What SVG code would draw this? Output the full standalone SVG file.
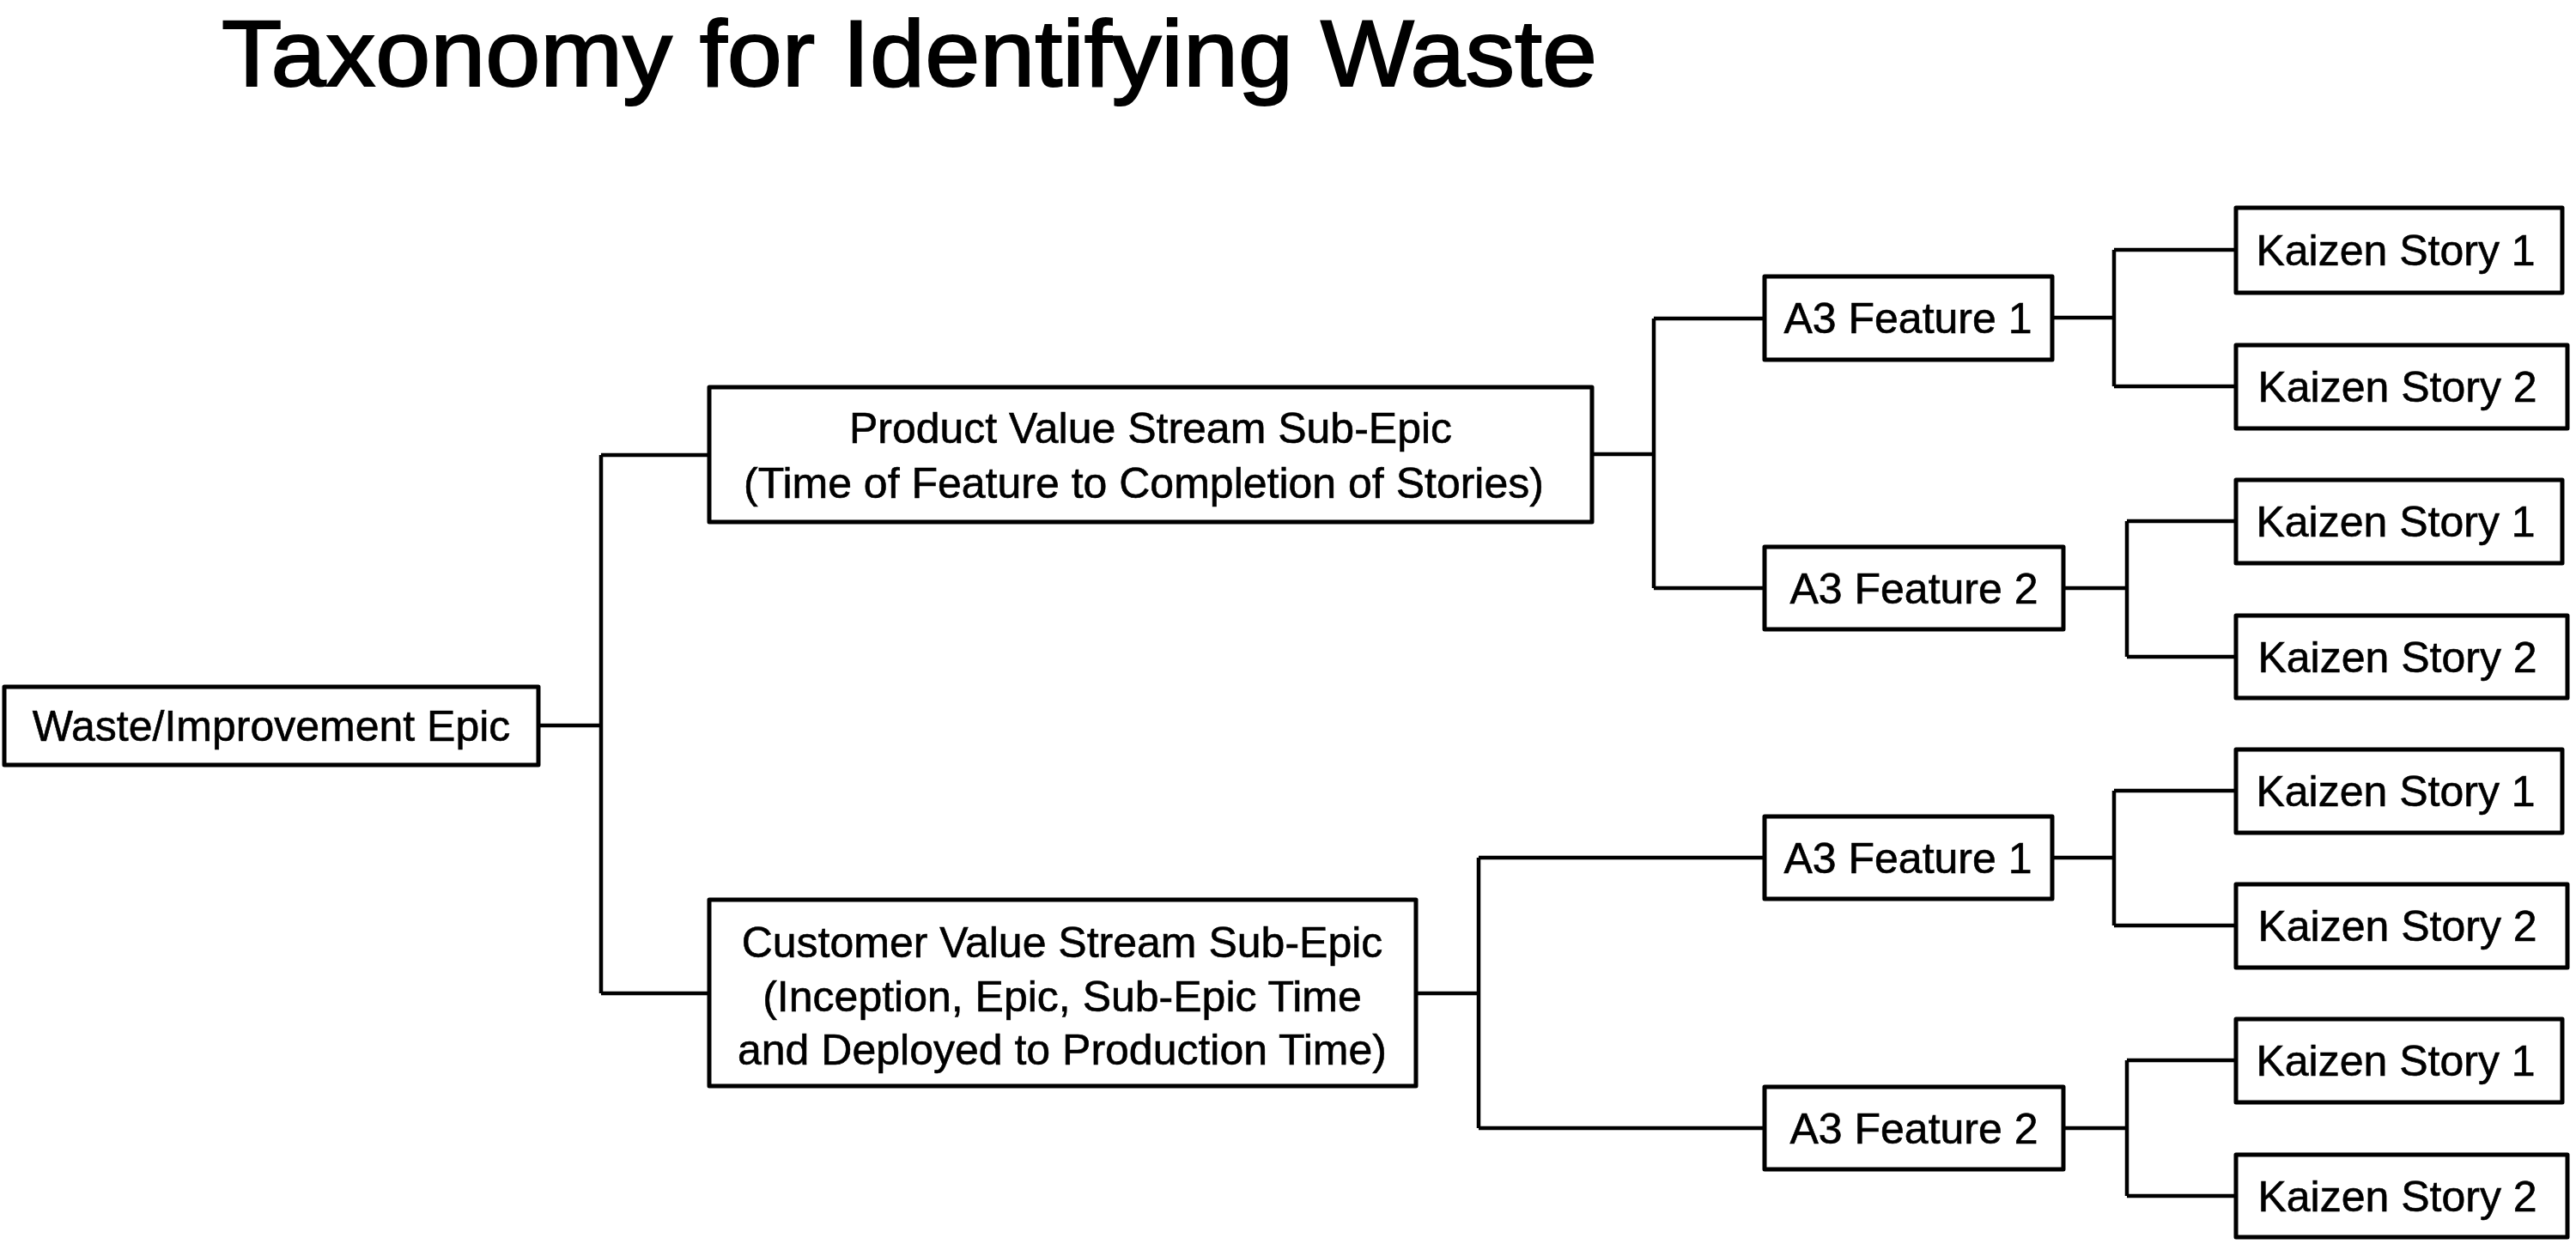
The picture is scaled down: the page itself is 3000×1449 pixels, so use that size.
<svg xmlns="http://www.w3.org/2000/svg" width="3000" height="1449" viewBox="0 0 3000 1449">
<style>
.box{fill:#fff;stroke:#000;stroke-width:5;stroke-linejoin:round}
.t{font-family:"Liberation Sans",Arial,sans-serif;font-size:50px;fill:#000;text-anchor:middle;stroke:#000;stroke-width:0.6}
.title{font-family:"Liberation Sans",Arial,sans-serif;font-size:110px;fill:#000;stroke:#000;stroke-width:2}
.c{fill:none;stroke:#000;stroke-width:4.5;stroke-linejoin:miter}
</style>
<rect width="3000" height="1449" fill="#fff"/>
<text class="title" x="258" y="100" textLength="1602" lengthAdjust="spacingAndGlyphs">Taxonomy for Identifying Waste</text>
<g id="connectors">
<path class="c" d="M627 845 H700 M700 530 V1157 M700 530 H826 M700 1157 H826"/>
<path class="c" d="M1854 529 H1926 M1926 371 V685 M1926 371 H2055 M1926 685 H2055"/>
<path class="c" d="M1649 1157 H1722 M1722 999 V1314 M1722 999 H2055 M1722 1314 H2055"/>
<path class="c" d="M2390 370 H2462 M2462 291 V450 M2462 291 H2604 M2462 450 H2604"/>
<path class="c" d="M2403 685 H2477 M2477 607 V765 M2477 607 H2604 M2477 765 H2604"/>
<path class="c" d="M2390 999 H2462 M2462 921 V1078 M2462 921 H2604 M2462 1078 H2604"/>
<path class="c" d="M2403 1314 H2477 M2477 1235 V1393 M2477 1235 H2604 M2477 1393 H2604"/>
</g>
<g id="n-root"><rect class="box" x="5" y="800" width="622" height="91"/><text class="t" x="316" y="863">Waste/Improvement Epic</text></g>
<g id="n-product"><rect class="box" x="826" y="451" width="1028" height="157"/><text class="t" x="1340" y="516">Product Value Stream Sub-Epic</text><text class="t" x="1332" y="580">(Time of Feature to Completion of Stories)</text></g>
<g id="n-customer"><rect class="box" x="826" y="1048" width="823" height="217"/><text class="t" x="1237" y="1115">Customer Value Stream Sub-Epic</text><text class="t" x="1237" y="1178">(Inception, Epic, Sub-Epic Time</text><text class="t" x="1237" y="1240">and Deployed to Production Time)</text></g>
<g id="n-pf1"><rect class="box" x="2055" y="322" width="335" height="97"/><text class="t" x="2222" y="388">A3 Feature 1</text></g>
<g id="n-pf2"><rect class="box" x="2055" y="637" width="348" height="96"/><text class="t" x="2229" y="703">A3 Feature 2</text></g>
<g id="n-cf1"><rect class="box" x="2055" y="951" width="335" height="96"/><text class="t" x="2222" y="1017">A3 Feature 1</text></g>
<g id="n-cf2"><rect class="box" x="2055" y="1266" width="348" height="96"/><text class="t" x="2229" y="1332">A3 Feature 2</text></g>
<g id="n-k1"><rect class="box" x="2604" y="242" width="380" height="99"/><text class="t" x="2790" y="309">Kaizen Story 1</text></g>
<g id="n-k2"><rect class="box" x="2604" y="402" width="386" height="97"/><text class="t" x="2792" y="468">Kaizen Story 2</text></g>
<g id="n-k3"><rect class="box" x="2604" y="559" width="380" height="97"/><text class="t" x="2790" y="625">Kaizen Story 1</text></g>
<g id="n-k4"><rect class="box" x="2604" y="717" width="386" height="96"/><text class="t" x="2792" y="783">Kaizen Story 2</text></g>
<g id="n-k5"><rect class="box" x="2604" y="873" width="380" height="97"/><text class="t" x="2790" y="939">Kaizen Story 1</text></g>
<g id="n-k6"><rect class="box" x="2604" y="1030" width="386" height="97"/><text class="t" x="2792" y="1096">Kaizen Story 2</text></g>
<g id="n-k7"><rect class="box" x="2604" y="1187" width="380" height="97"/><text class="t" x="2790" y="1253">Kaizen Story 1</text></g>
<g id="n-k8"><rect class="box" x="2604" y="1345" width="386" height="96"/><text class="t" x="2792" y="1411">Kaizen Story 2</text></g>
</svg>
